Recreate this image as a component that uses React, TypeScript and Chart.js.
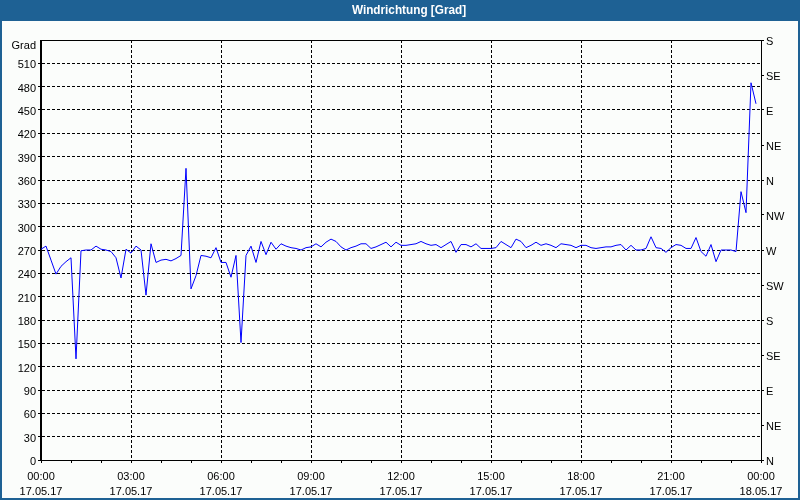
import React, { useEffect, useRef } from "react";
import { Chart, registerables } from "chart.js";

Chart.register(...registerables);

const titleText = "Windrichtung [Grad]";
const unitLabel = "Grad";
const intervalMinutes = 10;
const windDirection = [
  271, 275, 257, 239, 249, 255, 260, 130, 269, 270,
  270, 275, 271, 270, 268, 260, 234, 271, 266, 275,
  270, 212, 278, 254, 257, 258, 256, 259, 263, 375,
  220, 237, 263, 262, 260, 273, 254, 254, 235, 263,
  151, 263, 275, 254, 281, 264, 280, 271, 278, 275,
  273, 272, 270, 273, 274, 278, 274, 280, 284, 281,
  274, 270, 273, 275, 278, 278, 272, 274, 277, 280,
  274, 280, 276, 276, 277, 278, 281, 278, 276, 277,
  273, 277, 281, 267, 277, 277, 274, 278, 272, 272,
  272, 273, 281, 277, 273, 284, 281, 273, 276, 280,
  276, 278, 276, 273, 278, 277, 276, 273, 276, 276,
  273, 272, 273, 274, 274, 276, 277, 270, 276, 270,
  270, 272, 287, 273, 272, 267, 273, 277, 276, 272,
  272, 286, 268, 262, 277, 255, 270, 270, 270, 268,
  345, 318, 485, 458,
];
const timeLabels = ["00:00", "03:00", "06:00", "09:00", "12:00", "15:00", "18:00", "21:00", "00:00"];
const dateLabels = ["17.05.17", "17.05.17", "17.05.17", "17.05.17", "17.05.17", "17.05.17", "17.05.17", "17.05.17", "18.05.17"];
const compassLabels = ["N", "NE", "E", "SE", "S", "SW", "W", "NW", "N", "NE", "E", "SE", "S"];
const yMax = 540;
const yStep = 30;
const compassStep = 45;
const xMax = 1440;
const labelStep = 180;
const minorStep = 60;

const FONT = "'Liberation Sans', Arial, sans-serif";
const BLUE = "#1e6194";

const framePlugin = {
  id: "frame",
  beforeDraw(chart: any) {
    const { ctx, width, height } = chart;
    ctx.save();
    ctx.fillStyle = "#fbfdfb";
    ctx.fillRect(0, 0, width, height);
    ctx.fillStyle = BLUE;
    ctx.fillRect(0, 0, width, 21);
    ctx.fillRect(0, 0, 2, height);
    ctx.fillRect(width - 2, 0, 2, height);
    ctx.fillRect(0, height - 2, width, 2);
    ctx.fillStyle = "#ffffff";
    ctx.font = "bold 12px " + FONT;
    ctx.textAlign = "center";
    ctx.textBaseline = "middle";
    ctx.translate(width / 2 + 9, 10.5);
    ctx.scale(0.98, 1);
    ctx.fillText(titleText, 0, 0);
    ctx.restore();
  },
  afterDraw(chart: any) {
    const { ctx, chartArea } = chart;
    ctx.save();
    ctx.strokeStyle = "#000";
    ctx.lineWidth = 1;
    ctx.setLineDash([]);
    ctx.strokeRect(
      Math.round(chartArea.left) - 0.5,
      Math.round(chartArea.top) + 0.5,
      Math.round(chartArea.right - chartArea.left) + 1,
      Math.round(chartArea.bottom - chartArea.top)
    );
    ctx.restore();
  },
};

export default function App() {
  const ref = useRef<HTMLCanvasElement>(null);

  useEffect(() => {
    if (!ref.current) return;
    const data = windDirection.map((v, i) => ({ x: i * intervalMinutes, y: v }));
    const chart = new Chart(ref.current, {
      type: "line",
      data: {
        datasets: [
          {
            data,
            borderColor: "#0000ff",
            borderWidth: 1,
            pointRadius: 0,
            tension: 0,
            fill: false,
            yAxisID: "y",
          },
        ],
      },
      options: {
        animation: false,
        responsive: false,
        layout: { padding: { top: 40, left: 0, right: 0, bottom: 0 } },
        plugins: {
          legend: { display: false },
          tooltip: { enabled: false },
          title: { display: false },
        },
        scales: {
          x: {
            type: "linear",
            min: 0,
            max: xMax,
            afterFit: (s: any) => {
              s.height = 40;
            },
            afterBuildTicks: (s: any) => {
              const t = [];
              for (let v = 0; v <= xMax; v += minorStep) t.push({ value: v });
              s.ticks = t;
            },
            ticks: {
              autoSkip: false,
              maxRotation: 0,
              padding: 6,
              color: "#000",
              font: { family: FONT, size: 11, lineHeight: 1.4 },
              callback: (v: any) => {
                const n = Number(v);
                if (n % labelStep !== 0) return "";
                const k = n / labelStep;
                return [timeLabels[k], dateLabels[k]];
              },
            },
            grid: {
              color: (c: any) => {
                const v = c.tick ? c.tick.value : -1;
                return v % labelStep === 0 && v > 0 && v < xMax ? "#000" : "transparent";
              },
              tickColor: "#000",
              tickLength: 3,
              tickBorderDash: [],
            },
            border: { display: true, color: "#000", dash: [3, 2] },
          },
          y: {
            position: "left",
            min: 0,
            max: yMax,
            afterFit: (s: any) => {
              s.width = 41;
            },
            ticks: {
              stepSize: yStep,
              padding: 2,
              labelOffset: 2,
              color: "#000",
              font: { family: FONT, size: 11, lineHeight: 0.7 },
              callback: (v: any) => (Number(v) === yMax ? ["", unitLabel] : String(v)),
            },
            grid: {
              color: (c: any) => {
                const v = c.tick ? c.tick.value : -1;
                return v > 0 && v < yMax ? "#000" : "transparent";
              },
              tickColor: (c: any) => {
                const v = c.tick ? c.tick.value : -1;
                return v < yMax ? "#000" : "transparent";
              },
              tickLength: 3,
              tickBorderDash: [],
            },
            border: { display: true, color: "#000", dash: [3, 2] },
          },
          y2: {
            position: "right",
            min: 0,
            max: yMax,
            afterFit: (s: any) => {
              s.width = 39;
            },
            ticks: {
              stepSize: compassStep,
              padding: 2,
              labelOffset: 2,
              color: "#000",
              font: { family: FONT, size: 11 },
              callback: (v: any) => compassLabels[Math.round(Number(v) / compassStep)] ?? "",
            },
            grid: {
              drawOnChartArea: false,
              color: "transparent",
              tickColor: "#000",
              tickLength: 3,
            },
            border: { display: true, color: "#000" },
          },
        },
      },
      plugins: [framePlugin],
    } as any);
    return () => chart.destroy();
  }, []);

  return (
    <div style={{ position: "fixed", left: 0, top: 0, width: 800, height: 500 }}>
      <canvas ref={ref} width={800} height={500} style={{ display: "block" }} />
    </div>
  );
}
